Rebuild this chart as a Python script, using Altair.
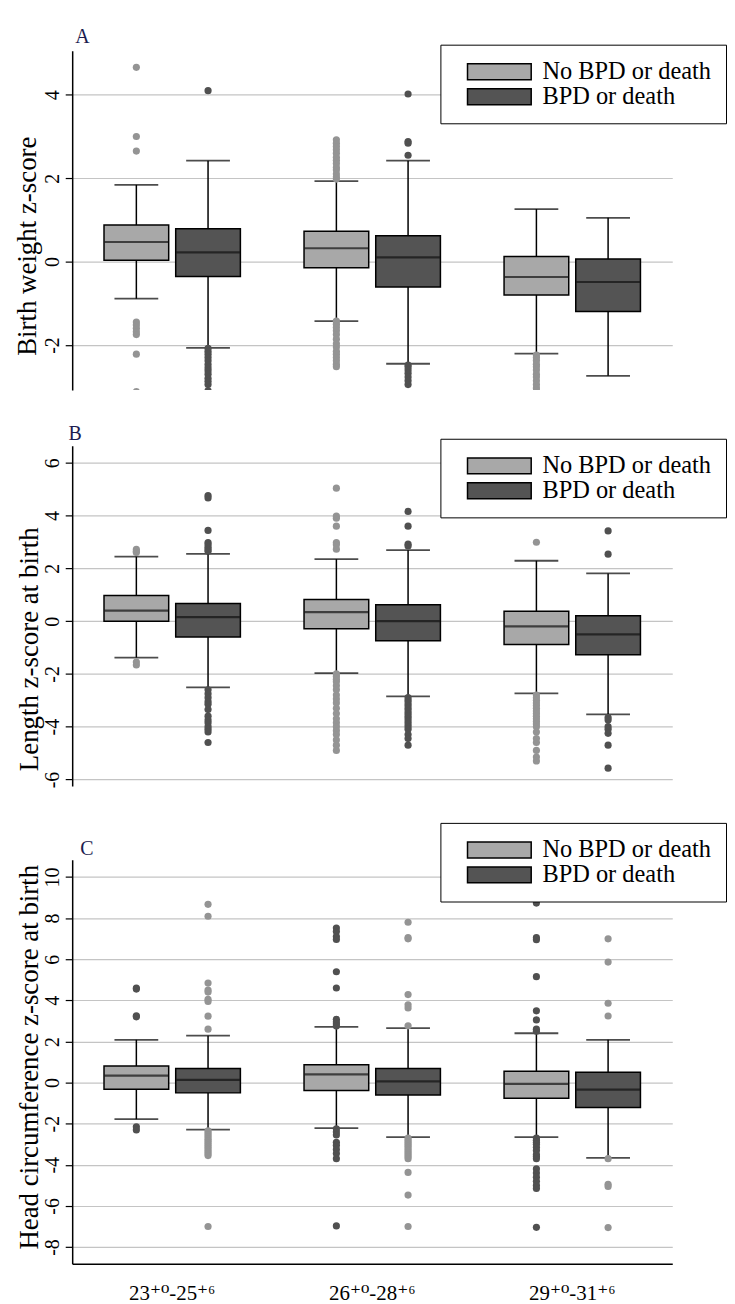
import altair as alt
import pandas as pd

FONT = "Liberation Serif"
XFONT = "Liberation Serif, DejaVu Serif"

groups = ["23⁺⁰-25⁺⁶", "26⁺⁰-28⁺⁶", "29⁺⁰-31⁺⁶"]
series = ["No BPD or death", "BPD or death"]

# order in every list: [g1 light, g1 dark, g2 light, g2 dark, g3 light, g3 dark]
# ---- Panel A: Birth weight z-score
a_low = [-0.89, -2.07, -1.43, -2.45, -2.21, -2.74]
a_q1 = [0.03, -0.36, -0.15, -0.61, -0.80, -1.20]
a_med = [0.47, 0.22, 0.32, 0.10, -0.37, -0.49]
a_q3 = [0.88, 0.79, 0.73, 0.62, 0.12, 0.06]
a_high = [1.84, 2.42, 1.93, 2.42, 1.26, 1.05]
a_out = [
    [4.66, 3.0, 2.65, -1.45, -1.52, -1.6, -1.68, -1.75, -2.22, -3.12],
    [4.1, -2.08, -2.15, -2.22, -2.3, -2.38, -2.47, -2.55, -2.62, -2.7, -2.8, -2.87, -2.95, -3.1],
    [2.92, 2.84, 2.76, 2.68, 2.6, 2.5, 2.43, 2.35, 2.26, 2.2, 2.1, 2.03, 1.98,
     -1.43, -1.5, -1.58, -1.66, -1.75, -1.86, -1.97, -2.05, -2.15, -2.22, -2.3, -2.38, -2.46, -2.52],
    [4.02, 2.88, 2.84, 2.55, -2.48, -2.53, -2.6, -2.68, -2.77, -2.86, -2.95],
    [-2.24, -2.3, -2.37, -2.46, -2.52, -2.6, -2.7, -2.77, -2.86, -2.95, -3.03, -3.1],
    [],
]

# ---- Panel B: Length z-score at birth
b_low = [-1.38, -2.51, -1.97, -2.85, -2.74, -3.53]
b_q1 = [0.00, -0.60, -0.29, -0.74, -0.88, -1.27]
b_med = [0.40, 0.15, 0.34, 0.00, -0.20, -0.50]
b_q3 = [0.97, 0.67, 0.82, 0.62, 0.38, 0.21]
b_high = [2.45, 2.55, 2.35, 2.69, 2.29, 1.81]
b_out = [
    [2.72, 2.65, 2.6, -1.55, -1.66],
    [4.76, 4.67, 3.44, 2.98, 2.9, 2.8, 2.72, 2.65, -2.6, -2.75, -2.9, -3.05, -3.15, -3.35,
     -3.6, -3.75, -3.85, -4.0, -4.1, -4.2, -4.6],
    [5.04, 3.98, 3.9, 3.6, 2.98, 2.9, 2.73, -2.0, -2.1, -2.2, -2.3, -2.45, -2.6, -2.8, -2.95,
     -3.1, -3.3, -3.5, -3.7, -3.85, -4.0, -4.15, -4.3, -4.5, -4.7, -4.9],
    [4.16, 3.6, 2.92, 2.85, -2.9, -3.0, -3.1, -3.2, -3.3, -3.4, -3.5, -3.6, -3.7, -3.8, -3.9,
     -4.0, -4.1, -4.3, -4.45, -4.7],
    [2.99, -2.8, -2.9, -3.0, -3.1, -3.2, -3.3, -3.4, -3.5, -3.6, -3.7, -3.8, -3.9, -4.0, -4.2,
     -4.45, -4.6, -4.9, -5.15, -5.3],
    [3.42, 2.54, -3.65, -3.75, -4.0, -4.1, -4.25, -4.7, -5.57],
]

# ---- Panel C: Head circumference z-score at birth
c_low = [-1.78, -2.29, -2.21, -2.65, -2.65, -3.66]
c_q1 = [-0.32, -0.50, -0.39, -0.60, -0.76, -1.21]
c_med = [0.34, 0.13, 0.40, 0.06, -0.06, -0.34]
c_q3 = [0.81, 0.69, 0.87, 0.69, 0.55, 0.50]
c_high = [2.08, 2.28, 2.71, 2.65, 2.40, 2.08]
c_out = [
    [4.6, 4.55, 3.25, 3.2, -2.15, -2.3],
    [8.67, 8.09, 4.84, 4.5, 4.4, 4.05, 3.95, 3.23, 2.6, -2.35, -2.45, -2.55, -2.65, -2.75,
     -2.85, -2.95, -3.05, -3.15, -3.25, -3.35, -3.45, -3.55, -7.0],
    [7.52, 7.35, 7.1, 6.96, 5.39, 4.6, 3.08, 2.95, 2.85, 2.75, -2.25, -2.4, -2.55, -2.9,
     -3.05, -3.25, -3.45, -3.7, -6.97],
    [7.8, 7.05, 6.99, 4.28, 3.78, 3.63, 2.76, -2.7, -2.8, -2.9, -3.0, -3.1, -3.2, -3.3, -3.4,
     -3.5, -3.6, -3.7, -4.37, -5.47, -7.0],
    [8.73, 7.05, 6.95, 5.15, 3.49, 3.05, 2.6, 2.5, -2.7, -2.8, -2.9, -3.0, -3.15, -3.3, -3.5,
     -3.6, -3.7, -4.2, -4.4, -4.6, -4.8, -5.0, -5.15, -7.04],
    [6.99, 5.86, 3.86, 3.24, -3.7, -4.95, -5.05, -7.05],
]

BOX_FILL = ["#a8a8a8", "#545454"]
OUT_LIGHT = "#949494"
OUT_DARK = "#505050"


def make_panel(low, q1, med, q3, high, outs, out_cols, dom, ticks, height, letter,
               ytitle, title_x, title_y, title_dx, title_dy, leg_x, leg_y, show_x):
    rows, orows = [], []
    for gi, g in enumerate(groups):
        for si, s in enumerate(series):
            k = gi * 2 + si
            rows.append(dict(group=g, series=s, lw=low[k], q1=q1[k], med=med[k],
                             q3=q3[k], uw=high[k]))
            for v in outs[k]:
                orows.append(dict(group=g, series=s, v=v, oc=out_cols[si]))
    boxes = pd.DataFrame(rows)
    outdf = pd.DataFrame(orows)

    if show_x:
        xaxis = alt.Axis(title=None, labelFont=XFONT, labelFontSize=21, labelColor="black",
                         labelAngle=0, labelBaseline="alphabetic", labelPadding=36,
                         ticks=False, tickSize=0, domainColor="black", domainWidth=1.5,
                         grid=False)
    else:
        xaxis = None
    xenc = alt.X("group:N", scale=alt.Scale(domain=groups, paddingInner=0, paddingOuter=0),
                 axis=xaxis, title=None)
    xo = alt.XOffset("series:N",
                     scale=alt.Scale(domain=series, paddingInner=0, paddingOuter=0.395))

    yaxis = alt.Axis(values=ticks, labelExpr="'' + datum.value", grid=True,
                     gridColor="#c4c4c4", gridWidth=1.2, domainColor="black",
                     domainWidth=1.5, tickColor="black", tickWidth=1.2, tickSize=7,
                     labelAngle=270, labelAlign="center", labelBaseline="alphabetic",
                     labelPadding=7, labelFont=FONT, labelFontSize=20, labelColor="black",
                     title=ytitle, titleFont=FONT, titleFontSize=27,
                     titleFontWeight="normal", titleColor="black", titleAngle=270,
                     titleAlign="center", titleBaseline="alphabetic",
                     titleX=title_x, titleY=title_y)
    yscale = alt.Scale(domain=dom, nice=False, zero=False)

    def Y(field):
        return alt.Y(f"{field}:Q", scale=yscale, axis=yaxis, title=ytitle)

    base = alt.Chart(boxes)
    whisk = base.mark_rule(color="black", strokeWidth=1.5).encode(
        x=xenc, xOffset=xo, y=Y("lw"), y2="uw")
    cap_lo = base.mark_tick(size=44, thickness=1.8, color="black").encode(
        x=xenc, xOffset=xo, y=Y("lw"))
    cap_hi = base.mark_tick(size=44, thickness=1.8, color="black").encode(
        x=xenc, xOffset=xo, y=Y("uw"))
    legend = alt.Legend(title=None, orient="none", legendX=leg_x, legendY=leg_y,
                        direction="vertical", labelFont=FONT, labelFontSize=24.5,
                        labelLimit=0, labelColor="black", symbolType="M-4,-1H4V1H-4Z",
                        symbolSize=256, symbolStrokeColor="black", symbolStrokeWidth=1.5,
                        symbolOpacity=1, symbolOffset=32, labelOffset=31, padding=15,
                        rowPadding=0, strokeColor="black", fillColor="white")
    box = base.mark_bar(size=65, stroke="black", strokeWidth=1.5, opacity=1).encode(
        x=xenc, xOffset=xo, y=Y("q1"), y2="q3",
        fill=alt.Fill("series:N", scale=alt.Scale(domain=series, range=BOX_FILL),
                      legend=legend))
    median = base.mark_tick(size=64, thickness=2.2, color="#111111").encode(
        x=xenc, xOffset=xo, y=Y("med"))
    pts = alt.Chart(outdf).mark_circle(size=52, opacity=1, clip=True).encode(
        x=xenc, xOffset=xo, y=Y("v"), color=alt.Color("oc:N", scale=None))

    return alt.layer(whisk, cap_lo, cap_hi, box, median, pts).properties(
        width=603, height=height,
        title=alt.TitleParams(letter, anchor="start", frame="group", font=FONT,
                              fontSize=20, fontWeight="normal", color="#1c1c50",
                              offset=8, dx=title_dx, dy=title_dy))


pA = make_panel(a_low, a_q1, a_med, a_q3, a_high, a_out, [OUT_LIGHT, OUT_DARK],
                [-3.08, 5.06], [-2, 0, 2, 4], 341, "A", "Birth weight  z-score",
                -37, 196, 3, 11, 370, -6, False)
pB = make_panel(b_low, b_q1, b_med, b_q3, b_high, b_out, [OUT_LIGHT, OUT_DARK],
                [-6.25, 6.65], [-6, -4, -2, 0, 2, 4, 6], 342, "B",
                "Length  z-score at birth", -34.5, 204, -3.6, 14, 370, -7, False)
pC = make_panel(c_low, c_q1, c_med, c_q3, c_high, c_out, [OUT_DARK, OUT_LIGHT],
                [-8.81, 10.84], [-8, -6, -4, -2, 0, 2, 4, 6, 8, 10], 406, "C",
                "Head circumference  z-score at birth", -35, 198, 8, 45, 370, -37, True)

chart = alt.vconcat(pA, pB, pC, spacing=34).resolve_scale(
    x="independent", y="independent", fill="independent", xOffset="independent"
).resolve_legend(fill="independent").configure_view(stroke=None).properties(
    padding={"top": 15.7, "left": 5.5, "right": 0, "bottom": 0})

chart.save("out.html", embed_options={"renderer": "svg", "actions": False})
